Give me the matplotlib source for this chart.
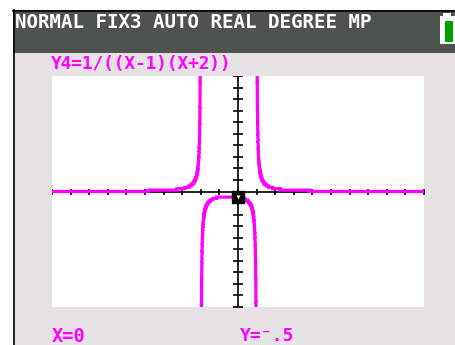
import matplotlib
matplotlib.use("Agg")
import matplotlib.pyplot as plt
import numpy as np

# ── 画面の内容 ──────────────────────────────────────────────
HEADER_TEXT = "NORMAL FIX3 AUTO REAL DEGREE MP"
FUNC_LABEL  = "Y4=1/((X-1)(X+2))"
TRACE_X_TXT = "X=0"
TRACE_Y_TXT = "Y=\u207b.5"

X_WINDOW = (-10, 10)
Y_WINDOW = (-10, 10)
X_TICKS  = list(range(-10, 11))
Y_TICKS  = list(range(-10, 11))
POLES    = [-2, 1]          # (X+2)(X-1) の零点
TRACE_PT = (0, -0.5)

MAGENTA = "#FF00FF"
HEADER  = "#4F5350"
BG      = "#E6E1E5"

W, H = 455, 345


def fig_rect(x0, y0, x1, y1):
    """画素座標(左上原点) → figure 分率"""
    return [x0 / W, 1 - y1 / H, (x1 - x0) / W, (y1 - y0) / H]


fig = plt.figure(figsize=(W / 100, H / 100), dpi=100)
fig.patch.set_facecolor("white")

# 画面の枠・背景
bg = fig.add_axes(fig_rect(0, 0, W, H))
bg.set_xlim(0, W)
bg.set_ylim(H, 0)
bg.axis("off")
bg.add_patch(plt.Rectangle((13, 10), W - 13, H - 10, color=BG, lw=0))
bg.add_patch(plt.Rectangle((13, 10), W - 13, 43, color=HEADER, lw=0))
bg.plot([13.5, 13.5], [10, H], color="black", lw=1.2)
bg.plot([13, W], [10.5, 10.5], color="black", lw=1.2)
# 電池アイコン
bg.add_patch(plt.Rectangle((440, 16), 16, 28, facecolor="white", edgecolor="none"))
bg.add_patch(plt.Rectangle((443, 13), 8, 4, facecolor="white", edgecolor="none"))
bg.add_patch(plt.Rectangle((445, 21), 8, 21, facecolor="#00A000", edgecolor="none"))

mono = dict(family="DejaVu Sans Mono", weight="bold")
bg.text(15, 22, HEADER_TEXT, color="white", fontsize=13.8, va="center", ha="left", **mono)
bg.text(51, 64, FUNC_LABEL, color=MAGENTA, fontsize=12.8, va="center", ha="left", **mono)
bg.text(52, 336, TRACE_X_TXT, color=MAGENTA, fontsize=13.5, va="center", ha="left", **mono)
bg.text(240, 336, TRACE_Y_TXT, color=MAGENTA, fontsize=13, va="center", ha="left",
        family=["DejaVu Sans Mono", "DejaVu Sans"], weight="bold")

# ── グラフ領域 ──────────────────────────────────────────────
ax = fig.add_axes(fig_rect(52, 76, 424, 307))
ax.set_facecolor("white")
ax.set_xlim(*X_WINDOW)
ax.set_ylim(*Y_WINDOW)
for s in ax.spines.values():
    s.set_visible(False)
ax.set_xticks([])
ax.set_yticks([])

ax.axhline(0, color="black", lw=1.2, zorder=2)
ax.axvline(0, color="black", lw=1.2, zorder=2)
ax.plot(X_TICKS, [0] * len(X_TICKS), ls="none", marker="|", ms=5, mew=1.2,
        color="black", zorder=2)
ax.plot([0] * len(Y_TICKS), Y_TICKS, ls="none", marker="_", ms=7, mew=1.2,
        color="black", zorder=2)

# 関数を評価し、縦方向は電卓の画素グリッドに丸める
cols = np.linspace(X_WINDOW[0], X_WINDOW[1], 4001)
dy = (Y_WINDOW[1] - Y_WINDOW[0]) / 165
edges = [X_WINDOW[0]] + POLES + [X_WINDOW[1]]
for a, b in zip(edges[:-1], edges[1:]):
    xs = cols[(cols > a + 1e-9) & (cols < b - 1e-9)]
    ys = 1 / ((xs - POLES[1]) * (xs - POLES[0]))
    ys = np.clip(np.round(ys / dy) * dy, -12, 12)
    ax.plot(xs, ys, color=MAGENTA, lw=2.3, drawstyle="steps-mid",
            solid_joinstyle="miter", zorder=3)

# トレースカーソル
ax.plot(*TRACE_PT, marker="s", ms=8, color="black", zorder=4)
ax.plot(*TRACE_PT, marker="v", ms=3, color="white", mew=0, zorder=5)

fig.savefig("out.png", dpi=100)
